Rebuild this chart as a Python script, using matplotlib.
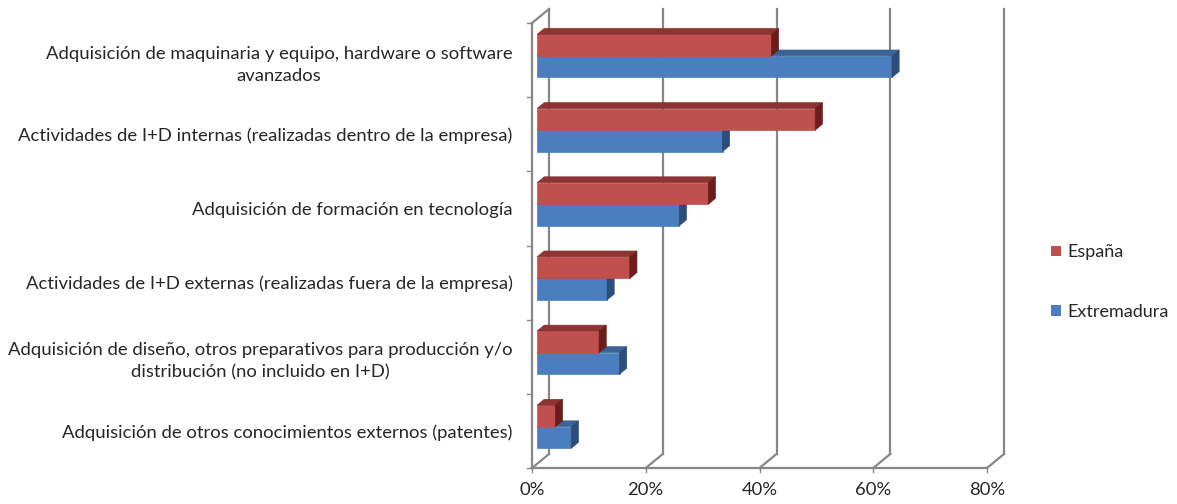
import numpy as np
import matplotlib
matplotlib.use('Agg')
import matplotlib.pyplot as plt
from matplotlib.patches import Polygon, Patch

plt.rcParams['font.family'] = ['Lato', 'DejaVu Sans']

# datos (porcentaje de empresas)
categorias = ['Adquisición de maquinaria y equipo, hardware o software\navanzados',
              'Actividades de I+D internas (realizadas dentro de la empresa)',
              'Adquisición de formación en tecnología',
              'Actividades de I+D externas (realizadas fuera de la empresa)',
              'Adquisición de diseño, otros preparativos para producción y/o\ndistribución (no incluido en I+D)',
              'Adquisición de otros conocimientos externos (patentes)']
espana = [41.2, 48.9, 30.1, 16.3, 10.9, 3.2]
extremadura = [62.4, 32.6, 25.0, 12.3, 14.5, 6.0]
ticks_x = [0, 20, 40, 60, 80]
series = ['España', 'Extremadura']

# colores estilo Excel: frente, arriba, lado
col_esp = ('#C0504D', '#8C3432', '#6B1D1B')
col_ext = ('#4A7EBF', '#3A6496', '#2B4D78')

W, H = 1177, 504
fig = plt.figure(figsize=(W / 100, H / 100), dpi=100)
# area frontal del grafico: x 532..987 px, y 23..468 px
ax = fig.add_axes([532 / W, (H - 468) / H, 455 / W, 445 / H])
ax.set_xlim(0, 80)
ax.set_ylim(0, 6)

# profundidad 3D en unidades de datos
dx = 17 / (455 / 80)
dy = 14 / (445 / 6)
f0, f1 = 0.3, 0.72
h = 0.29
gris = '#878787'
lw = 1.6
fs = 13.3


def barra(yb, v, cols):
    x0 = f0 * dx
    x1 = v + f0 * dx
    ya = yb + f0 * dy
    yt = yb + h + f0 * dy
    ex = (f1 - f0) * dx
    ey = (f1 - f0) * dy
    frente = Polygon([(x0, ya), (x1, ya), (x1, yt), (x0, yt)], closed=True,
                     fc=cols[0], ec=cols[0], lw=0.5, clip_on=False, zorder=3)
    arriba = Polygon([(x0, yt), (x1, yt), (x1 + ex, yt + ey), (x0 + ex, yt + ey)], closed=True,
                     fc=cols[1], ec=cols[1], lw=0.5, clip_on=False, zorder=3)
    lado = Polygon([(x1, ya), (x1 + ex, ya + ey), (x1 + ex, yt + ey), (x1, yt)], closed=True,
                   fc=cols[2], ec=cols[2], lw=0.5, clip_on=False, zorder=3)
    for p in (frente, arriba, lado):
        ax.add_patch(p)


# pared del fondo y suelo
for t in ticks_x:
    ax.plot([t + dx, t + dx], [dy, 6 + dy], color=gris, lw=lw, clip_on=False, zorder=1)
    ax.plot([t, t + dx], [0, dy], color=gris, lw=lw, clip_on=False, zorder=1)
    ax.plot([t, t], [0, -0.05], color=gris, lw=1, clip_on=False, zorder=1)
ax.plot([0, 80], [0, 0], color=gris, lw=lw, clip_on=False, zorder=2)
ax.plot([0, 0], [0, 6], color=gris, lw=lw, clip_on=False, zorder=2)
ax.plot([0, dx], [6, 6 + dy], color=gris, lw=lw, clip_on=False, zorder=2)
for k in range(7):
    ax.plot([0, -0.9], [k, k], color=gris, lw=1, clip_on=False, zorder=2)

n = len(categorias)
centros = [n - (i + 0.5) for i in range(n)]
for i in range(n):
    barra(centros[i] - h, extremadura[i], col_ext)
    barra(centros[i], espana[i], col_esp)

ax.set_yticks(centros)
ax.set_yticklabels(categorias, fontsize=fs, color='#262626')
for lbl in ax.get_yticklabels():
    lbl.set_multialignment('center')
    lbl.set_linespacing(1.5)
ax.set_xticks(ticks_x)
ax.set_xticklabels([f'{t}%' for t in ticks_x], fontsize=fs, color='#262626')
ax.tick_params(axis='y', length=0, pad=14)
ax.tick_params(axis='x', length=0, pad=10)
for s in ax.spines.values():
    s.set_visible(False)
ax.set_facecolor('none')

handles = [Patch(fc=col_esp[0], ec='none'), Patch(fc=col_ext[0], ec='none')]
fig.legend(handles, series, loc='center left', bbox_to_anchor=(1035 / W, 1 - 282 / H),
           frameon=False, fontsize=13, labelspacing=2.4, handlelength=0.55,
           handleheight=0.55, handletextpad=0.35, labelcolor='#262626')

fig.savefig('out.png', dpi=100)
